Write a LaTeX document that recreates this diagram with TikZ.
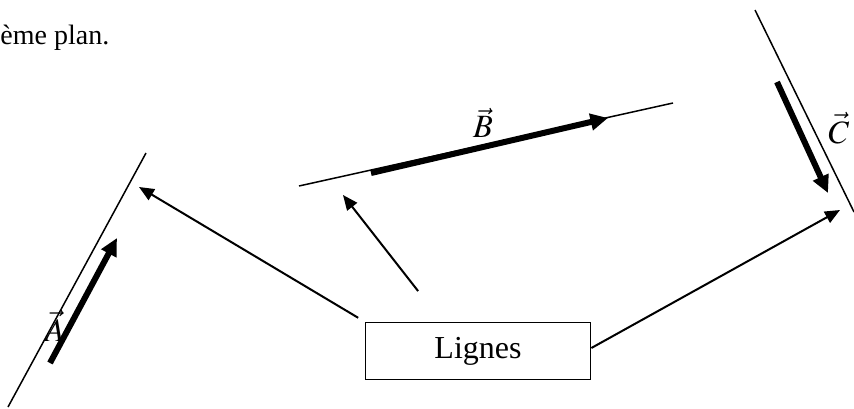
\documentclass[tikz,border=0pt]{standalone}
\usepackage{mathptmx}
\usepackage{fontspec}
\setmainfont{Liberation Serif}
\usetikzlibrary{arrows.meta}

\begin{document}
\begin{tikzpicture}[x=0.4pt,y=-0.4pt,
    support/.style={line width=0.6pt},
    vecteur/.style={line width=2.4pt,-{Triangle[length=7pt,width=6.5pt]}},
    lien/.style={line width=0.8pt,-{Triangle[length=6pt,width=5pt]}},
    boite/.style={draw,line width=0.7pt,minimum width=90pt,minimum height=22.8pt,inner sep=0pt,font=\fontsize{12.8}{15}\selectfont},
    etiq/.style={font=\fontsize{13}{15}\selectfont}]
    \useasboundingbox (0,0) rectangle (854,408);
    \node[font=\fontsize{11.2}{13}\selectfont,anchor=base west,inner sep=0pt] (titre) at (0,44) {ème plan.};
    % lignes de support et vecteurs
    \coordinate (sA1) at (8,407); \coordinate (sA2) at (146,153);
    \coordinate (sB1) at (299,186); \coordinate (sB2) at (673,103);
    \coordinate (sC1) at (755,10); \coordinate (sC2) at (854,212);
    \draw[support] (sA1) -- (sA2);
    \draw[support] (sB1) -- (sB2);
    \draw[support] (sC1) -- (sC2);
    \coordinate (vA1) at (50,363); \coordinate (vA2) at (117,238);
    \coordinate (vB1) at (371,173); \coordinate (vB2) at (608,118);
    \coordinate (vC1) at (777,82); \coordinate (vC2) at (828,193);
    \draw[vecteur] (vA1) -- (vA2);
    \draw[vecteur] (vB1) -- (vB2);
    \draw[vecteur] (vC1) -- (vC2);
    \node[etiq] (labA) at (55,326) {$\vec{A}$};
    \node[etiq] (labB) at (483,123) {$\vec{B}$};
    \node[etiq] (labC) at (839,128) {$\vec{C}$};
    % boite et fleches
    \node[boite] (lignes) at (478,351) {Lignes};
    \coordinate (pA) at (139,187);
    \coordinate (pB) at (343,195);
    \coordinate (pC) at (840,210);
    \draw[lien,shorten <=3pt] (lignes.north west) -- (pA);
    \draw[lien,shorten <=15.5pt] ([xshift=-14.4pt]lignes.north) -- (pB);
    \draw[lien] ([yshift=1.2pt]lignes.east) -- (pC);
\end{tikzpicture}
\end{document}
